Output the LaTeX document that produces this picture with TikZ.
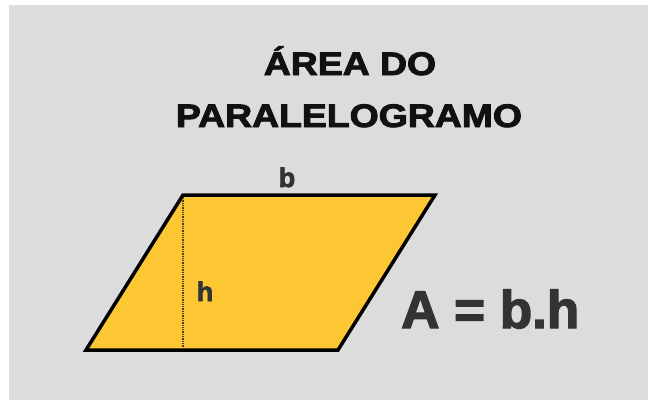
\documentclass[tikz,border=0pt]{standalone}
\usepackage{fontspec}
\setmainfont{Liberation Sans}
\newfontfamily\heavyfont[FakeBold=2.6]{Liberation Sans Bold}
\usepackage{xcolor}
\usepackage{tikz}
\usetikzlibrary{calc, positioning}

\definecolor{fundo}{RGB}{220,220,220}
\definecolor{amarelo}{RGB}{252,199,50}
\definecolor{tinta}{RGB}{51,51,51}
\definecolor{titulo}{RGB}{17,17,17}

\begin{document}
\begin{tikzpicture}[x=1pt, y=-1pt,
    rotulo/.style={font=\heavyfont, text=tinta, inner sep=0pt, anchor=base},
    cabecalho/.style={font=\heavyfont\fontsize{32.5}{32.5}\selectfont, text=titulo,
        inner sep=0pt, anchor=base, xscale=1.15}]

    % =================================================================
    % 1. MOLDURA E FUNDO
    % =================================================================
    \useasboundingbox (0,0) rectangle (649,400);
    \fill[fundo] (9,5) rectangle (648,400);

    % =================================================================
    % 2. VÉRTICES DO PARALELOGRAMO
    % =================================================================
    \coordinate (A) at (86,350);
    \coordinate (B) at (338,350);
    \coordinate (C) at (435,195);
    \coordinate (D) at (183,195);
    \coordinate (H) at (183,350); % pé da altura

    % =================================================================
    % 3. PARALELOGRAMO E ALTURA
    % =================================================================
    \filldraw[fill=amarelo, draw=black, line width=3.5pt, line join=miter]
        (A) -- (B) -- (C) -- (D) -- cycle;
    \draw[densely dotted, line width=1.3pt, black!50!amarelo!60!black] ($(D)+(0,3)$) -- ($(H)+(0,-3)$);

    % =================================================================
    % 4. TÍTULO E RÓTULOS
    % =================================================================
    \node[cabecalho] (tit1) at (350,75) {ÁREA DO};
    \node[cabecalho] (tit2) at (349,127) {PARALELOGRAMO};

    \node[rotulo, font=\heavyfont\fontsize{27}{27}\selectfont] (base) at (287,187) {b};
    \node[rotulo, font=\heavyfont\fontsize{27}{27}\selectfont] (altura) at (205,301) {h};
    \node[rotulo, anchor=base west, font=\heavyfont\fontsize{53}{53}\selectfont] (formula) at (401,328) {A = b.h};

\end{tikzpicture}
\end{document}
